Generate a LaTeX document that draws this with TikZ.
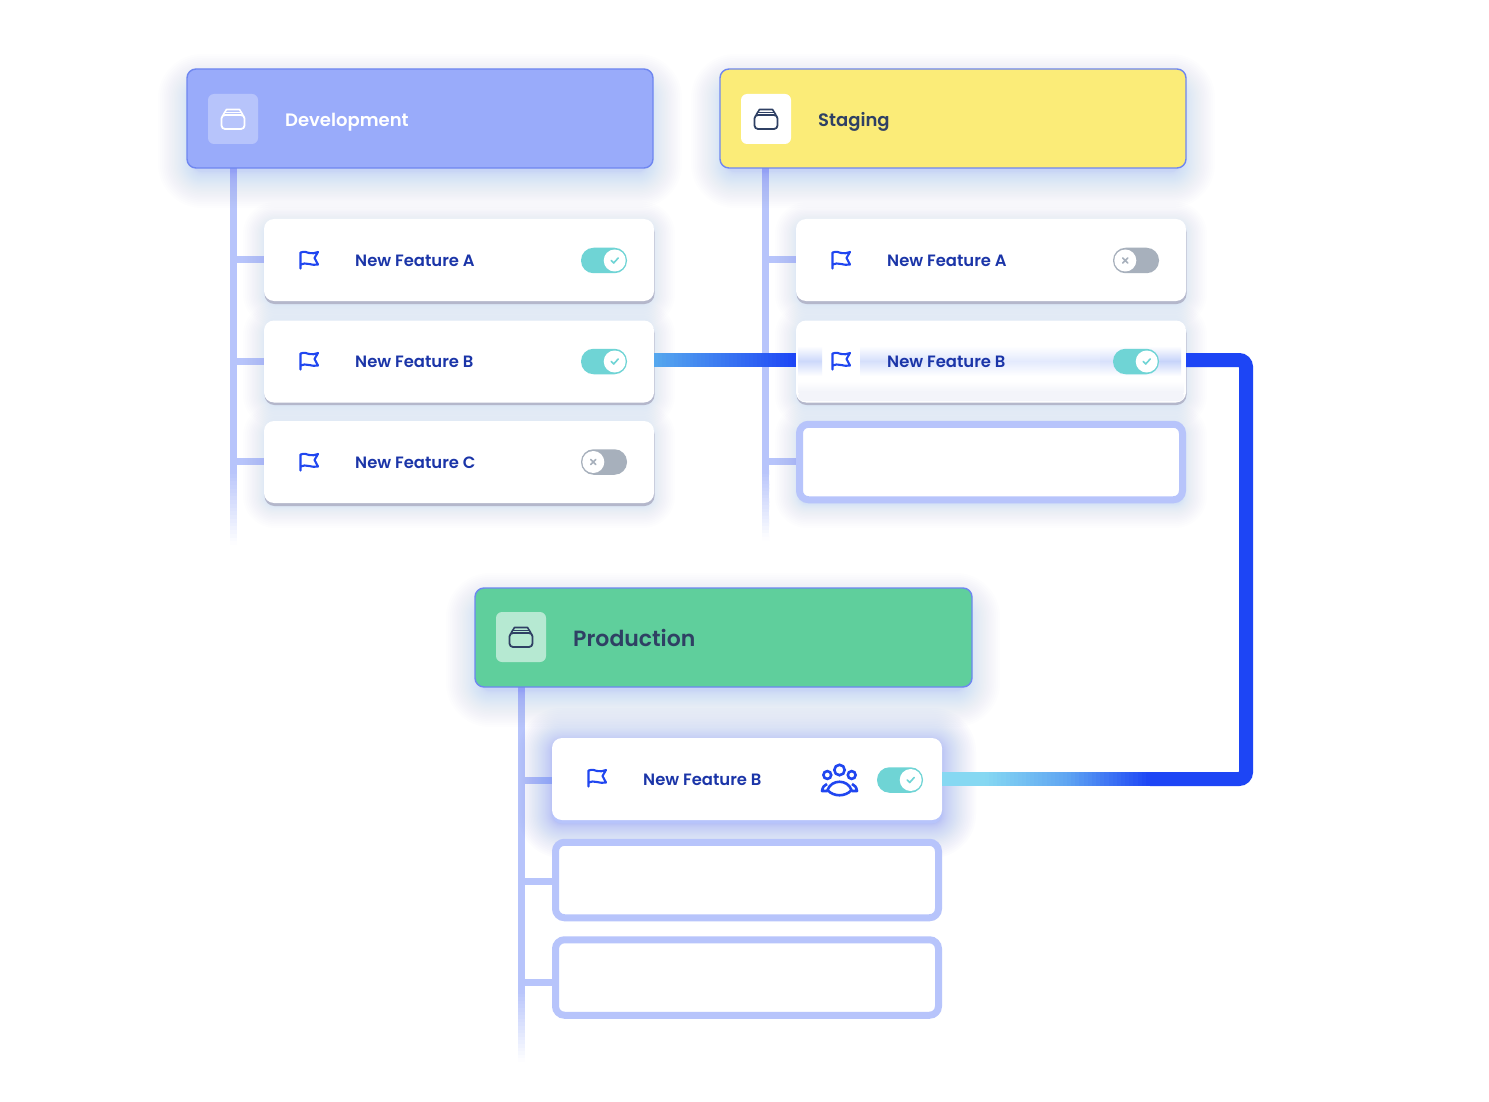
\documentclass[tikz,border=0pt]{standalone}
\usepackage{fontspec}
\setmainfont{Poppins}[BoldFont={Poppins SemiBold}]
\usetikzlibrary{calc}
\definecolor{spine}{HTML}{B7C4FB}
\definecolor{devfill}{HTML}{99ABFA}
\definecolor{stagefill}{HTML}{FBEC78}
\definecolor{prodfill}{HTML}{5FCF9C}
\definecolor{hdrline}{HTML}{6E86F0}
\definecolor{glowblue}{HTML}{5A74F5}
\definecolor{cardtext}{HTML}{1B35A8}
\definecolor{iconblue}{HTML}{2046F0}
\definecolor{darktext}{HTML}{2F4064}
\definecolor{wireblue}{HTML}{1D45F5}
\definecolor{wirestart}{HTML}{56A8EE}
\definecolor{wiremid}{HTML}{5FA5F2}
\definecolor{wirecyan}{HTML}{86D8F2}
\definecolor{togon}{HTML}{6FD4D5}
\definecolor{togoff}{HTML}{A7B0BC}
\definecolor{cardedge}{HTML}{B4B7CB}
\definecolor{bandblue}{HTML}{C4D2FA}
\definecolor{speck}{HTML}{F3F4FA}
\tikzset{
  x=1pt,y=-1pt,
  header/.style={draw=hdrline,line width=1.4pt,rounded corners=9pt,minimum width=#1,minimum height=99pt,inner sep=0pt,outer sep=0pt},
  card/.style={fill=white,rounded corners=10pt,minimum width=390pt,minimum height=82pt,inner sep=0pt,outer sep=0pt},
  slot/.style={draw=spine,fill=white,line width=7pt,rounded corners=9pt,minimum width=383pt,minimum height=75.5pt,inner sep=0pt,outer sep=0pt},
  tile/.style={fill=white,rounded corners=6pt,minimum size=50pt,inner sep=0pt,outer sep=0pt},
  spineline/.style={draw=spine,line width=7pt},
  branchline/.style={draw=spine,line width=7pt},
  wire/.style={draw=wireblue,line width=14pt,rounded corners=7pt},
  hdrtext/.style={anchor=west,inner sep=0pt,font=\fontsize{18}{22}\selectfont\bfseries},
  cardlabel/.style={anchor=west,inner sep=0pt,text=cardtext,font=\fontsize{16.4}{20}\selectfont\bfseries},
  iconline/.style={line width=2.1pt,line join=round,line cap=round},
  knob/.style={circle,fill=white,minimum size=22pt,inner sep=0pt,outer sep=0pt}
}
% soft glow round a box: centre x, y, half width, half height, layers, opacity per layer
\newcommand{\softglow}[7]{%
  \foreach \glowi in {1,...,#5}{%
    \pgfmathsetmacro{\glowe}{\glowi*\glowi/#5}%
    \fill[#7,opacity=#6,rounded corners=\glowe pt+8pt]
      (#1-#3-\glowe,#2-#4-\glowe) rectangle (#1+#3+\glowe,#2+#4+\glowe);}}
% gradient line from a to b, colour c1 to c2, in n short pieces of width w
\newcommand{\gradline}[6]{%
  \pgfmathtruncatemacro{\gradlast}{#5-1}%
  \foreach \gradt in {0,...,\gradlast}{%
    \pgfmathsetmacro{\gradp}{\gradt/#5}%
    \pgfmathsetmacro{\gradq}{min((\gradt+1.4)/#5,1)}%
    \pgfmathsetmacro{\gradm}{100*(\gradt+.5)/#5}%
    \draw[#4!\gradm!#3,line width=#6] ($(#1)!\gradp!(#2)$) -- ($(#1)!\gradq!(#2)$);}}
\newcommand{\flagicon}[1]{%
  \draw[iconblue,iconline] ($(#1)+(-8.5,8.5)$) -- ($(#1)+(-8.5,-7.5)$)
    .. controls ($(#1)+(-5,-8.5)$) and ($(#1)+(-2.5,-8.5)$) .. ($(#1)+(0,-7)$)
    .. controls ($(#1)+(3,-6)$) and ($(#1)+(6,-7)$) .. ($(#1)+(9,-8)$)
    -- ($(#1)+(5.5,-2)$) -- ($(#1)+(9,4.5)$)
    .. controls ($(#1)+(6,5)$) and ($(#1)+(3,5)$) .. ($(#1)+(0,4)$)
    .. controls ($(#1)+(-3,3)$) and ($(#1)+(-6,3.5)$) .. ($(#1)+(-8.5,4.5)$);}
\newcommand{\boxicon}[2]{%
  \draw[#2,line width=1.8pt,rounded corners=3.5pt] ($(#1)+(-11.5,-4)$) rectangle ($(#1)+(11.5,10)$);
  \draw[#2,line width=1.6pt,line join=round] ($(#1)+(-10,-4)$) -- ($(#1)+(-6.5,-9.5)$) -- ($(#1)+(6.5,-9.5)$) -- ($(#1)+(10,-4)$);
  \draw[#2,line width=1.2pt] ($(#1)+(-8.5,-6.8)$) -- ($(#1)+(8.5,-6.8)$);}
\newcommand{\toggleon}[2]{%
  \node[fill=togon,rounded corners=12.5pt,minimum width=46pt,minimum height=25.5pt,inner sep=0pt,outer sep=0pt] (#1) at (#2) {};
  \node[knob] (#1k) at ($(#2)+(10.7,0)$) {};
  \draw[togon,line width=1.6pt,line cap=round,line join=round] ($(#1k)+(-3.5,0)$) -- ($(#1k)+(-1,2.5)$) -- ($(#1k)+(3.5,-2.5)$);}
\newcommand{\toggleoff}[2]{%
  \node[fill=togoff,rounded corners=12.5pt,minimum width=46pt,minimum height=25.5pt,inner sep=0pt,outer sep=0pt] (#1) at (#2) {};
  \node[knob] (#1k) at ($(#2)+(-10.7,0)$) {};
  \draw[togoff,line width=1.6pt,line cap=round] ($(#1k)+(-2.5,-2.5)$) -- ($(#1k)+(2.5,2.5)$) ($(#1k)+(-2.5,2.5)$) -- ($(#1k)+(2.5,-2.5)$);}
\begin{document}
\begin{tikzpicture}
\useasboundingbox (0,0) rectangle (1489,1102);
\fill[white] (0,0) rectangle (1489,1102);

% --- anchors of the spines
\coordinate (devS0) at (233,168);     \coordinate (devS1) at (233,470);     \coordinate (devS2) at (233,545);
\coordinate (stgS0) at (765.5,168);   \coordinate (stgS1) at (765.5,470);   \coordinate (stgS2) at (765.5,540);
\coordinate (prdS0) at (521,687);     \coordinate (prdS1) at (521,990);     \coordinate (prdS2) at (521,1062);

% --- spines
\draw[spineline] (devS0) -- (devS1);
\gradline{devS1}{devS2}{spine}{white}{20}{7pt}
\draw[spineline] (stgS0) -- (stgS1);
\gradline{stgS1}{stgS2}{spine}{white}{20}{7pt}
\draw[spineline] (prdS0) -- (prdS1);
\gradline{prdS1}{prdS2}{spine}{white}{20}{7pt}

% --- branches
\draw[branchline] (233,260) -- (264,260);
\draw[branchline] (233,361) -- (264,361);
\draw[branchline] (233,461.5) -- (264,461.5);
\draw[branchline] (765.5,260) -- (796,260);
\draw[branchline] (765.5,461.5) -- (796,461.5);
\draw[branchline] (521,780) -- (552,780);
\draw[branchline] (521,881) -- (552,881);
\draw[branchline] (521,982) -- (552,982);

% --- glows
\softglow{420}{131}{226}{41}{36}{0.007}{glowblue}
\softglow{953}{131}{226}{41}{36}{0.007}{glowblue}
\softglow{723}{650}{241}{41}{36}{0.007}{glowblue}
\softglow{459}{264}{192}{38}{24}{0.006}{glowblue}
\softglow{459}{365}{192}{38}{24}{0.006}{glowblue}
\softglow{459}{466}{192}{38}{24}{0.006}{glowblue}
\softglow{991}{264}{192}{38}{24}{0.006}{glowblue}
\softglow{991}{365}{192}{38}{24}{0.006}{glowblue}
\softglow{991}{466}{192}{38}{24}{0.006}{glowblue}
\softglow{747}{783}{193}{39}{36}{0.014}{glowblue}

% --- card bottom edges
\foreach \cx/\cy in {459/263,459/364,459/465,991/263,991/364}{
  \fill[cardedge,rounded corners=10pt] (\cx-194.5,\cy-41) rectangle (\cx+195.5,\cy+41);}
\fill[spine,rounded corners=10pt] (552,741) rectangle (942,823.5);

% --- headers
\node[header=466pt,fill=devfill]   (dev)  at (420,118.5) {};
\node[header=466pt,fill=stagefill] (stg)  at (953,118.5) {};
\node[header=497pt,fill=prodfill]  (prd)  at (723.5,637.5) {};
\node[tile,fill opacity=.3]  (devT) at (233,119) {};
\node[tile]                  (stgT) at (766,119) {};
\node[tile,fill opacity=.55] (prdT) at (521,637) {};
\boxicon{devT}{white}
\boxicon{stgT}{darktext}
\boxicon{prdT}{darktext}
\node[hdrtext,text=white] (devL) at (285,122) {Development};
\node[hdrtext,text=darktext] (stgL) at (818,122) {Staging};
\node[hdrtext,text=darktext,font=\fontsize{22}{26}\selectfont\bfseries] (prdL) at (573,637.5) {Production};

% --- cards
\node[card] (devA) at (459,260) {};
\node[card] (devB) at (459,361.5) {};
\node[card] (devC) at (459,462) {};
\node[card] (stgA) at (991,260) {};
\node[card] (stgB) at (991,361.5) {};
\node[slot] (stgC) at (991,462) {};
\node[card] (prdB) at (747,779) {};
\node[slot] (prdX) at (747,880) {};
\node[slot] (prdY) at (747,977.5) {};

% --- connectors
\coordinate (bendA) at (1246,360);
\coordinate (bendB) at (1246,779);
\coordinate (wireEnd) at (1150,779);
\coordinate (wireKnee) at (1067,779);
\coordinate (wireMid) at (985,779);
\gradline{devB.east |- bendA}{stgB.west |- bendA}{wirestart}{wireblue}{36}{14pt}
\draw[wire] (stgB.east |- bendA) -- (bendA) -- (bendB) -- (wireEnd);
\draw[wirecyan,line width=14pt] (prdB.east |- bendB) -- (wireMid);
\gradline{wireMid}{wireKnee}{wirecyan}{wiremid}{20}{14pt}
\gradline{wireKnee}{wireEnd}{wiremid}{wireblue}{20}{14pt}

% --- signal band inside the staging card
\shade[top color=white,bottom color=white,middle color=bandblue!85!white] (798,346) rectangle (822,376);
\foreach \bx/\bmix in {860/70,880/68,900/62,920/58,940/54,960/50,980/48,1000/46,1020/46,1040/48,1060/52,1080/58,1100/66,1120/76,1140/86,1160/95}{
  \shade[top color=white,bottom color=white,middle color=bandblue!\bmix!white] (\bx,346) rectangle (\bx+21,376);}
\shade[top color=white,bottom color=speck] (798,381) rectangle (1184,392);
\fill[speck,rounded corners=5pt] (798,391) rectangle (1184,401);

% --- card contents
\foreach \nm/\fx/\fy in {devA/309/260,devB/309/361,devC/309/462,stgA/841/260,stgB/841/361,prdB/597/778}{
  \coordinate (f\nm) at (\fx,\fy);
  \flagicon{f\nm}}
\node[cardlabel] (devAL) at (355,261) {New Feature A};
\node[cardlabel] (devBL) at (355,362) {New Feature B};
\node[cardlabel] (devCL) at (355,463) {New Feature C};
\node[cardlabel] (stgAL) at (887,261) {New Feature A};
\node[cardlabel] (stgBL) at (887,362) {New Feature B};
\node[cardlabel] (prdBL) at (643,780) {New Feature B};
\toggleon{tgDA}{604,260.5}
\toggleon{tgDB}{604,361.5}
\toggleoff{tgDC}{604,462}
\toggleoff{tgSA}{1136,260.5}
\toggleon{tgSB}{1136,361.5}
\toggleon{tgPB}{900,780}

% --- people icon
\coordinate (ppl) at (839.5,780);
\draw[iconblue,line width=2.6pt] ($(ppl)+(0,-10)$) circle (5.2);
\draw[iconblue,line width=2.6pt] ($(ppl)+(-12.2,-5)$) circle (3.9);
\draw[iconblue,line width=2.6pt] ($(ppl)+(12.2,-5)$) circle (3.9);
\draw[iconblue,line width=2.6pt,line join=round] ($(ppl)+(-12,10)$)
  .. controls ($(ppl)+(-8,-1)$) and ($(ppl)+(8,-1)$) .. ($(ppl)+(12,10)$)
  .. controls ($(ppl)+(6,17)$) and ($(ppl)+(-6,17)$) .. cycle;
\draw[iconblue,line width=2.6pt,line join=round] ($(ppl)+(-12,11)$) -- ($(ppl)+(-17.5,11)$)
  .. controls ($(ppl)+(-17,7)$) and ($(ppl)+(-15,5)$) .. ($(ppl)+(-12.5,4)$);
\draw[iconblue,line width=2.6pt,line join=round] ($(ppl)+(12,11)$) -- ($(ppl)+(17.5,11)$)
  .. controls ($(ppl)+(17,7)$) and ($(ppl)+(15,5)$) .. ($(ppl)+(12.5,4)$);
\end{tikzpicture}
\end{document}
